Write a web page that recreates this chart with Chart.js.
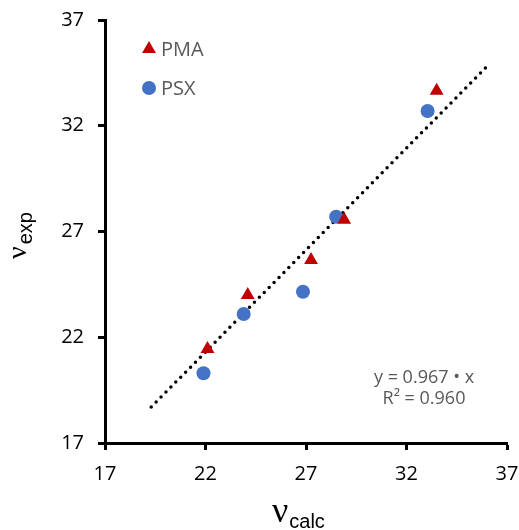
<!DOCTYPE html>
<html lang="en">
  <head>
    <meta charset="UTF-8" />
    <title>nu exp vs nu calc</title>
    <script src="https://cdn.jsdelivr.net/npm/chart.js"></script>
    <style>
      body {
        margin: 0;
        background-color: #ffffff;
      }
      #wrap {
        width: 519px;
        height: 530px;
      }
    </style>
  </head>
  <body>
    <div id="wrap"><canvas id="fitChart"></canvas></div>

    <script>
      // valores
      const pmaCalc = [22.1, 24.1, 27.25, 28.9, 33.5];
      const pmaExp = [21.45, 24.0, 25.65, 27.55, 33.65];
      const psxCalc = [21.9, 23.9, 26.85, 28.5, 33.05];
      const psxExp = [20.3, 23.1, 24.15, 27.7, 32.7];
      const trendCalc = [19.3, 36.0];
      const trendExp = [18.7, 34.8];
      const axisTicks = [17, 22, 27, 32, 37];
      const fitLines = ["y = 0.967 \u2022 x", "R\u00b2 = 0.960"];

      const tickFont = { family: "'Open Sans'", size: 20 };

      function toPoints(xs, ys) {
        return xs.map((x, i) => ({ x: x, y: ys[i] }));
      }

      // titulos con subindice, leyenda y ecuacion
      const extrasPlugin = {
        id: "extras",
        afterDraw(chart) {
          const ctx = chart.ctx;
          const area = chart.chartArea;
          ctx.save();

          // leyenda dentro del grafico
          const items = chart.data.datasets.filter((d) => d.showInLegend);
          items.forEach((ds, i) => {
            const cy = 49 + i * 39;
            ctx.fillStyle = ds.backgroundColor;
            ctx.strokeStyle = ds.borderColor;
            Chart.helpers.drawPoint(
              ctx,
              { pointStyle: ds.pointStyle, radius: ds.pointRadius, rotation: 0, borderWidth: 0 },
              area.left + 44,
              cy
            );
            ctx.fillStyle = "#595959";
            ctx.font = "20px 'Open Sans'";
            ctx.textAlign = "left";
            ctx.textBaseline = "middle";
            ctx.fillText(ds.label, area.left + 56, cy + 1);
          });

          // ecuacion de la recta
          ctx.fillStyle = "#595959";
          ctx.font = "18px 'Open Sans'";
          ctx.textAlign = "center";
          ctx.textBaseline = "middle";
          fitLines.forEach((t, i) => ctx.fillText(t, 424, 378 + i * 21));

          // titulo eje x
          ctx.fillStyle = "#000000";
          ctx.textAlign = "left";
          ctx.textBaseline = "alphabetic";
          ctx.font = "36px 'Liberation Serif'";
          ctx.fillText("\u03bd", 272, 522);
          const nuW = ctx.measureText("\u03bd").width;
          ctx.font = "20px 'Liberation Sans'";
          ctx.fillText("calc", 272 + nuW + 1, 528);

          // titulo eje y
          ctx.translate(26, 259);
          ctx.rotate(-Math.PI / 2);
          ctx.font = "28px 'Liberation Serif'";
          ctx.fillText("\u03bd", 0, 0);
          const nuW2 = ctx.measureText("\u03bd").width;
          ctx.font = "20px 'Liberation Sans'";
          ctx.fillText("exp", nuW2 + 2, 6);

          ctx.restore();
        },
      };

      const axisCommon = {
        type: "linear",
        min: 17,
        max: 37,
        afterBuildTicks: (scale) => {
          scale.ticks = axisTicks.map((v) => ({ value: v }));
        },
        border: { display: true, color: "#000000", width: 3 },
        grid: {
          display: true,
          drawOnChartArea: false,
          drawTicks: true,
          tickLength: 7,
          tickWidth: 3,
          tickColor: "#000000",
        },
      };

      new Chart(document.getElementById("fitChart"), {
        type: "scatter",
        data: {
          datasets: [
            {
              label: "PMA",
              data: toPoints(pmaCalc, pmaExp),
              pointStyle: "triangle",
              pointRadius: 8,
              backgroundColor: "#c00000",
              borderColor: "#c00000",
              borderWidth: 0,
              showInLegend: true,
              order: 1,
            },
            {
              label: "PSX",
              data: toPoints(psxCalc, psxExp),
              pointStyle: "circle",
              pointRadius: 7,
              backgroundColor: "#4472c4",
              borderColor: "#4472c4",
              borderWidth: 0,
              showInLegend: true,
              order: 2,
            },
            {
              label: "Lineal",
              type: "line",
              data: toPoints(trendCalc, trendExp),
              borderColor: "#000000",
              borderWidth: 3.5,
              borderDash: [0, 7],
              borderCapStyle: "round",
              pointRadius: 0,
              fill: false,
              showInLegend: false,
              order: 3,
            },
          ],
        },
        options: {
          responsive: true,
          maintainAspectRatio: false,
          animation: false,
          layout: { padding: { left: 0, top: 20, right: 12, bottom: 0 } },
          plugins: {
            legend: { display: false },
            tooltip: { enabled: false },
          },
          scales: {
            x: {
              ...axisCommon,
              position: "bottom",
              ticks: { font: tickFont, color: "#000000", padding: 12 },
              afterFit: (scale) => {
                scale.height = 87;
                scale.paddingLeft = 0;
                scale.paddingRight = 0;
              },
            },
            y: {
              ...axisCommon,
              position: "left",
              ticks: { font: tickFont, color: "#000000", padding: 14 },
              afterFit: (scale) => {
                scale.width = 105;
                scale.paddingTop = 0;
                scale.paddingBottom = 0;
              },
            },
          },
        },
        plugins: [extrasPlugin],
      });
    </script>
  </body>
</html>
